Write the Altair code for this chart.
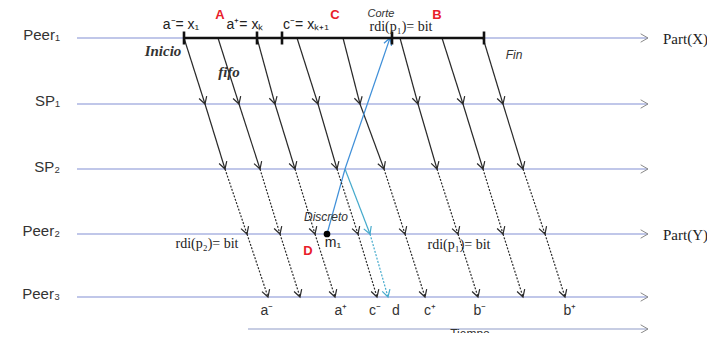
import math
import altair as alt
import pandas as pd

# ---------------- data ----------------
lanes = ["Peer₁", "SP₁", "SP₂", "Peer₂", "Peer₃"]
lane_y = [38, 104, 169, 234, 297]
lane_start = 77
lane_end = 648

# time position of each of the 8 messages when it reaches each lane
msg_t = [
    [184, 218, 257, 297, 343, 400, 442, 483],  # Peer1
    [205, 239, 275, 318, 360, 418, 463, 503],  # SP1
    [225, 260, 295, 337, 384, 437, 483, 523],  # SP2
    [247, 280, 315, 358, 405, 458, 503, 545],  # Peer2
    [268, 300, 335, 377, 425, 478, 523, 565],  # Peer3
]

# interval on Peer1 with its marks
interval = [184, 484]
interval_ticks = [184, 257, 282, 392, 484]

# control messages: cut (m1 -> SP2 -> Peer1) and d (SP2 -> Peer2 -> Peer3)
cut_t = [327, 345, 390]
cut_y = [234, 169, 38]
d_t = [345, 370, 388]
d_y = [169, 234, 297]

time_axis = [248, 648]
time_axis_y = 329

top_labels = ["a⁻= x₁", "a⁺= xₖ", "c⁻= xₖ₊₁"]
top_labels_t = [181, 245, 306]
bottom_labels = ["a⁻", "a⁺", "c⁻", "d", "c⁺", "b⁻", "b⁺"]
bottom_labels_t = [267, 341, 375, 396, 430, 480, 570]
red_labels = ["A", "C", "B", "D"]
red_labels_t = [220, 335, 437, 308]
red_labels_y = [15, 15, 15, 251]

# ---------------- scales ----------------
W, H = 699, 325
xs = alt.Scale(domain=[8, 8 + W], nice=False, zero=False)
ys = alt.Scale(domain=[8, 8 + H], nice=False, zero=False, reverse=True)
X = lambda f: alt.X(f, type="quantitative", scale=xs, axis=None)
Y = lambda f: alt.Y(f, type="quantitative", scale=ys, axis=None)

CHEVRON = "M-0.8,-1.4L0,0L0.8,-1.4"


def ang(dx, dy):
    return (math.degrees(math.atan2(-dx, dy))) % 360


# lanes
lanes_df = pd.DataFrame({"x": [lane_start] * 5, "x2": [lane_end] * 5, "y": lane_y})
lane_lines = alt.Chart(lanes_df).mark_rule(color="#8190d4", strokeWidth=1.2).encode(
    x=X("x"), x2="x2", y=Y("y"))
lane_heads_df = pd.DataFrame({"x": [lane_end] * 5 + [time_axis[1]],
                              "y": lane_y + [time_axis_y],
                              "a": [270] * 6})
lane_heads = alt.Chart(lane_heads_df).mark_point(
    shape=CHEVRON, filled=False, color="#8a8a8a", size=110, strokeWidth=1, opacity=1
).encode(x=X("x"), y=Y("y"), angle=alt.Angle("a:Q", scale=None))

time_df = pd.DataFrame({"x": [time_axis[0]], "x2": [time_axis[1]], "y": [time_axis_y]})
time_line = alt.Chart(time_df).mark_rule(color="#8f9cc8", strokeWidth=1.2).encode(
    x=X("x"), x2="x2", y=Y("y"))

# interval on Peer1
int_df = pd.DataFrame({"x": [interval[0]], "x2": [interval[1]], "y": [lane_y[0]]})
int_line = alt.Chart(int_df).mark_rule(color="#111111", strokeWidth=2.6).encode(
    x=X("x"), x2="x2", y=Y("y"))
tick_df = pd.DataFrame({"x": interval_ticks,
                        "y": [lane_y[0] - 6.5] * len(interval_ticks),
                        "y2": [lane_y[0] + 6.5] * len(interval_ticks)})
int_ticks = alt.Chart(tick_df).mark_rule(color="#111111", strokeWidth=2.6).encode(
    x=X("x"), y=Y("y"), y2="y2")

# messages
seg_rows, head_rows = [], []
for j in range(4):
    for i in range(8):
        x0, x1 = msg_t[j][i], msg_t[j + 1][i]
        y0, y1 = lane_y[j], lane_y[j + 1]
        seg_rows.append({"x": x0, "y": y0, "x2": x1, "y2": y1,
                         "dotted": j >= 2, "c": "#2a2a2a"})
        head_rows.append({"x": x1, "y": y1, "a": ang(x1 - x0, y1 - y0), "c": "#2a2a2a"})

# control messages
for k in range(2):
    x0, x1, y0, y1 = cut_t[k], cut_t[k + 1], cut_y[k], cut_y[k + 1]
    seg_rows.append({"x": x0, "y": y0, "x2": x1, "y2": y1, "dotted": False, "c": "#3f8fd8"})
head_rows.append({"x": cut_t[2], "y": cut_y[2],
                  "a": ang(cut_t[2] - cut_t[1], cut_y[2] - cut_y[1]), "c": "#3f8fd8"})
for k in range(2):
    x0, x1, y0, y1 = d_t[k], d_t[k + 1], d_y[k], d_y[k + 1]
    seg_rows.append({"x": x0, "y": y0, "x2": x1, "y2": y1, "dotted": k == 1, "c": "#45aacc"})
    head_rows.append({"x": x1, "y": y1, "a": ang(x1 - x0, y1 - y0), "c": "#45aacc"})

seg_df = pd.DataFrame(seg_rows)
head_df = pd.DataFrame(head_rows)

solid = alt.Chart(seg_df[~seg_df.dotted]).mark_rule(strokeWidth=1.2).encode(
    x=X("x"), y=Y("y"), x2="x2", y2="y2", color=alt.Color("c:N", scale=None))
dotted = alt.Chart(seg_df[seg_df.dotted]).mark_rule(strokeWidth=1.2, strokeDash=[2, 1.5]).encode(
    x=X("x"), y=Y("y"), x2="x2", y2="y2", color=alt.Color("c:N", scale=None))
heads = alt.Chart(head_df).mark_point(
    shape=CHEVRON, filled=False, size=100, strokeWidth=1.2, opacity=1
).encode(x=X("x"), y=Y("y"), angle=alt.Angle("a:Q", scale=None),
         color=alt.Color("c:N", scale=None))

dot = alt.Chart(pd.DataFrame({"x": [cut_t[0]], "y": [cut_y[0]]})).mark_point(
    filled=True, color="#000000", size=45, opacity=1).encode(x=X("x"), y=Y("y"))


# ---------------- texts ----------------
def texts(labels, xv, yv, **kw):
    df = pd.DataFrame({"t": labels, "x": xv, "y": yv})
    base = dict(baseline="middle", align="center")
    base.update(kw)
    return alt.Chart(df).mark_text(**base).encode(x=X("x"), y=Y("y"), text="t:N")


lane_text = texts(lanes, [60] * 5, [35, 101, 167, 231, 294], align="right",
                  font="Liberation Sans", fontSize=15, color="#333333")
part_text = texts(["Part(X)", "Part(Y)"], [663, 663], [39, 235], align="left",
                  font="Liberation Serif", fontSize=15, color="#222222")
top_text = texts(top_labels, top_labels_t, [25] * 3,
                 font="Liberation Sans", fontSize=14, color="#222222")
rdi_text = texts(["rdi(p₁)= bit", "rdi(p₂)= bit", "rdi(p₁)= bit"],
                 [401, 207, 459], [27, 244, 245],
                 font="Liberation Serif", fontSize=14, color="#222222")
bottom_text = texts(bottom_labels, bottom_labels_t, [311] * len(bottom_labels),
                    font="Liberation Sans", fontSize=14, color="#333333")
red_text = texts(red_labels, red_labels_t, red_labels_y,
                 font="Liberation Sans", fontSize=13, fontWeight="bold", color="#e8202a")
ital_serif = texts(["Inicio", "fifo"], [163, 229], [51, 72],
                   font="Liberation Serif", fontSize=15, fontStyle="italic",
                   fontWeight="bold", color="#333333")
ital_sans = texts(["Fin", "Discreto"], [514, 326], [55, 217],
                  font="Liberation Sans", fontSize=12, fontStyle="italic", color="#333333")
corte_text = texts(["Corte"], [381], [14], font="Liberation Sans", fontSize=11,
                   fontStyle="italic", color="#333333")
m1_text = texts(["m₁"], [333], [243], font="Liberation Sans", fontSize=14, color="#222222")
tiempo_text = texts(["Tiempo"], [470], [334], font="Liberation Sans", fontSize=12,
                    color="#333333")

chart = alt.layer(
    lane_lines, time_line, lane_heads, solid, dotted, heads, int_line, int_ticks, dot,
    lane_text, part_text, top_text, rdi_text, bottom_text, red_text,
    ital_serif, ital_sans, corte_text, m1_text, tiempo_text,
).properties(width=W, height=H, padding=0, autosize="none", background="white"
).configure_view(stroke=None)

chart.save("out.html", embed_options={"renderer": "svg", "actions": False})
